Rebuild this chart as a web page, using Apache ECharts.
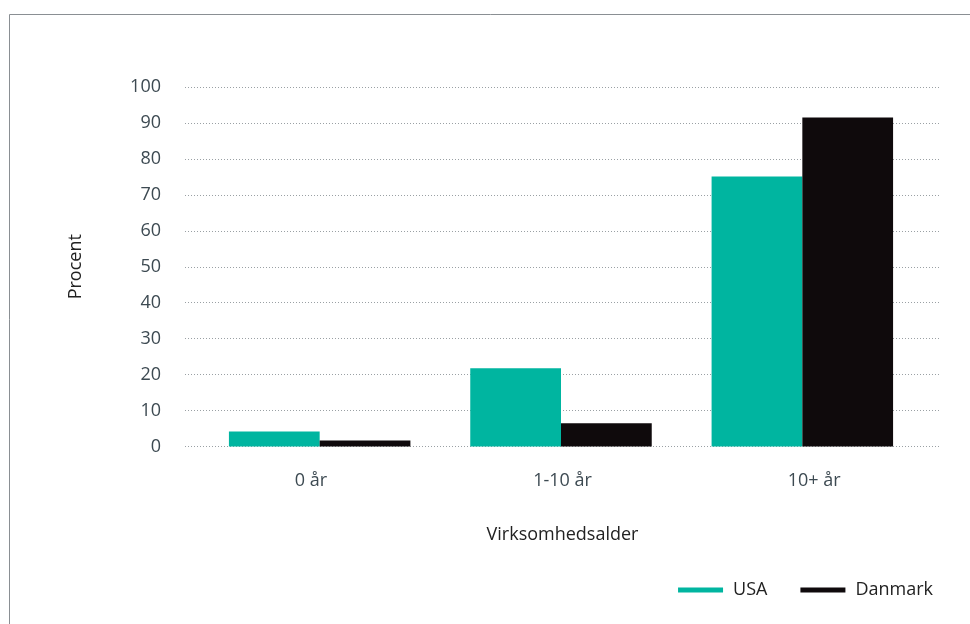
<!DOCTYPE html>
<html><head><meta charset="utf-8">
<script src="https://cdn.jsdelivr.net/npm/echarts@6/dist/echarts.min.js"></script>
<style>html,body{margin:0;padding:0;background:#fff}#c{width:970px;height:624px}</style>
</head><body><div id="c"></div>
<script>
const categories = ['0 år', '1-10 år', '10+ år'];
const usa = [4.2, 21.8, 75.1];
const danmark = [1.7, 6.5, 91.5];
const seriesNames = ['USA', 'Danmark'];
const FONT = 'Open Sans';
const chart = echarts.init(document.getElementById('c'));
chart.setOption({
  animation: false,
  textStyle: { fontFamily: FONT },
  graphic: [{ type: 'rect', shape: { x: 9.5, y: 14.5, width: 1000, height: 700 },
    style: { fill: 'none', stroke: '#8a8f93', lineWidth: 1 }, silent: true }],
  grid: [
    { left: 185, right: 30, top: 87, bottom: 177.5 },
    { left: 199, right: 47, top: 87, bottom: 177.5 }
  ],
  legend: {
    data: seriesNames, right: 32, top: 576, icon: 'rect', itemWidth: 45, itemHeight: 5,
    itemGap: 33, textStyle: { fontSize: 18, color: '#222', fontFamily: FONT, padding: [0, 0, 0, 5] }
  },
  xAxis: [
    {
      type: 'category', data: categories, gridIndex: 0,
      name: 'Virksomhedsalder', nameLocation: 'middle', nameGap: 79,
      nameTextStyle: { fontSize: 18, color: '#222', fontFamily: FONT },
      axisLine: { show: false }, axisTick: { show: false },
      axisLabel: { fontSize: 18, color: '#3d4a52', margin: 25, fontFamily: FONT }
    },
    {
      type: 'category', data: categories, gridIndex: 1,
      axisLine: { show: false }, axisTick: { show: false }, axisLabel: { show: false }
    }
  ],
  yAxis: [
    {
      type: 'value', min: 0, max: 100, interval: 10, gridIndex: 0,
      name: 'Procent', nameLocation: 'middle', nameGap: 100, nameRotate: 90,
      nameTextStyle: { fontSize: 18, color: '#222', fontFamily: FONT },
      axisLine: { show: false }, axisTick: { show: false },
      axisLabel: { fontSize: 18, color: '#3d4a52', margin: 24, fontFamily: FONT, padding: [5, 0, 0, 0] },
      splitLine: { lineStyle: { color: '#9aa0a4', type: [1, 2], width: 1 } }
    },
    {
      type: 'value', min: 0, max: 100, interval: 10, gridIndex: 1,
      axisLine: { show: false }, axisTick: { show: false }, axisLabel: { show: false },
      splitLine: { show: false }
    }
  ],
  series: [
    { name: seriesNames[0], type: 'bar', data: usa, xAxisIndex: 1, yAxisIndex: 1,
      barGap: '0%', barCategoryGap: '24.8%', itemStyle: { color: '#00b5a0' } },
    { name: seriesNames[1], type: 'bar', data: danmark, xAxisIndex: 1, yAxisIndex: 1,
      itemStyle: { color: '#0f0a0c' } }
  ]
});
</script></body></html>
